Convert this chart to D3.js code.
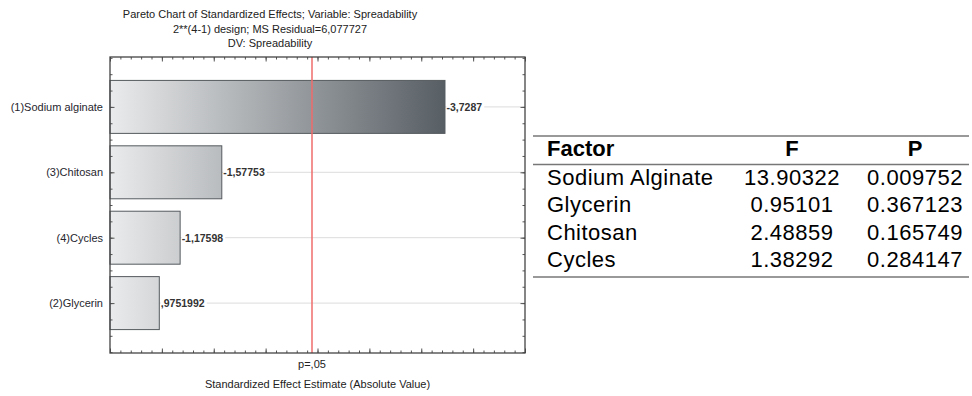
<!DOCTYPE html>
<html>
<head>
<meta charset="utf-8">
<script src="https://cdn.jsdelivr.net/npm/d3@7"></script>
<style>
  html, body { margin: 0; padding: 0; background: #fff; }
  svg { display: block; font-family: "Liberation Sans", Arial, sans-serif; }
</style>
</head>
<body>
<svg id="chart" width="972" height="396"></svg>
<script>
// Pareto chart of standardized effects (sorted by absolute value)
const factors = ["(1)Sodium alginate", "(3)Chitosan", "(4)Cycles", "(2)Glycerin"];
const effects = [-3.7287, -1.57753, -1.17598, 0.9751992];
const criticalT = 2.447;          // t value at p = .05
const xDomain = [0.5, 4.5];
const titleLines = [
  "Pareto Chart of Standardized Effects; Variable: Spreadability",
  "2**(4-1) design; MS Residual=6,077727",
  "DV: Spreadability"
];
const xTitle = "Standardized Effect Estimate (Absolute Value)";
const critLabel = "p=,05";

// ANOVA summary table
const tableHeader = ["Factor", "F", "P"];
const tableFactors = ["Sodium Alginate", "Glycerin", "Chitosan", "Cycles"];
const fValues = [13.90322, 0.95101, 2.48859, 1.38292];
const pValues = [0.009752, 0.367123, 0.165749, 0.284147];

const svg = d3.select("#chart");
const plot = { left: 110, right: 525, top: 57, bottom: 353 };

const x = d3.scaleLinear().domain(xDomain).range([plot.left, plot.right]);
const y = d3.scaleBand().domain(factors).range([plot.top, plot.bottom])
  .paddingInner(0.19).paddingOuter(0.358);
const yc = d => y(d) + y.bandwidth() / 2;

// Statistica-style number: comma decimal, no leading zero
const fmt = v => String(v).replace(/^(-?)0\./, "$1.").replace(".", ",");

// Title
svg.append("g").selectAll("text").data(titleLines).join("text")
  .attr("x", 270).attr("y", (d, i) => 18 + i * 14.5)
  .attr("text-anchor", "middle").attr("font-size", 11).attr("fill", "#222")
  .text(d => d);

// Gradient shared by all bars, spanning up to the largest effect
const maxAbs = d3.max(effects, Math.abs);
const grad = svg.append("defs").append("linearGradient")
  .attr("id", "barGrad").attr("gradientUnits", "userSpaceOnUse")
  .attr("x1", x(xDomain[0])).attr("x2", x(maxAbs)).attr("y1", 0).attr("y2", 0);
grad.append("stop").attr("offset", 0).attr("stop-color", "#eaebec");
grad.append("stop").attr("offset", 1).attr("stop-color", "#575e64");

// Horizontal gridlines at each effect
svg.append("g").selectAll("line").data(factors).join("line")
  .attr("x1", plot.left).attr("x2", plot.right)
  .attr("y1", yc).attr("y2", yc)
  .attr("stroke", "#dcdcdc").attr("stroke-width", 1);

// Bars
svg.append("g").selectAll("rect").data(factors).join("rect")
  .attr("x", x(xDomain[0]))
  .attr("y", d => y(d))
  .attr("width", (d, i) => x(Math.abs(effects[i])) - x(xDomain[0]))
  .attr("height", y.bandwidth())
  .attr("fill", "url(#barGrad)")
  .attr("stroke", "#555a5e").attr("stroke-width", 1);

// Value labels with white backing over the gridline
const lab = svg.append("g").selectAll("g").data(factors).join("g");
lab.each(function (d, i) {
  const g = d3.select(this);
  const bg = g.append("rect").attr("fill", "#fff");
  const t = g.append("text")
    .attr("x", x(Math.abs(effects[i])) + 1.5).attr("y", yc(d) + 4)
    .attr("font-size", 10.5).attr("font-weight", "bold").attr("fill", "#333")
    .text(fmt(effects[i]));
  const b = t.node().getBBox();
  bg.attr("x", b.x).attr("y", b.y).attr("width", b.width + 2).attr("height", b.height);
});

// Critical value line
svg.append("line")
  .attr("x1", x(criticalT)).attr("x2", x(criticalT))
  .attr("y1", plot.top).attr("y2", plot.bottom)
  .attr("stroke", "#ef6b6b").attr("stroke-width", 1.5);

// Inward ticks on all four sides
const majorX = d3.range(xDomain[0], xDomain[1] + 0.001, 0.5);
const minorX = d3.range(xDomain[0], xDomain[1] + 0.001, 0.1);
function xTicks(axisFn, yPos) {
  svg.append("g").attr("transform", `translate(0,${yPos})`)
    .call(axisFn(x).tickValues(minorX).tickSize(-2.5).tickFormat(""))
    .call(g => g.select(".domain").remove())
    .call(g => g.selectAll("line").attr("stroke", "#555"));
  svg.append("g").attr("transform", `translate(0,${yPos})`)
    .call(axisFn(x).tickValues(majorX).tickSize(-4.5).tickFormat(""))
    .call(g => g.select(".domain").remove())
    .call(g => g.selectAll("line").attr("stroke", "#555"));
}
xTicks(d3.axisBottom, plot.bottom);
xTicks(d3.axisTop, plot.top);

const yIdx = d3.scaleLinear().domain([0, factors.length - 1])
  .range([yc(factors[0]), yc(factors[factors.length - 1])]);
const yMinor = d3.range(-0.75, factors.length - 1 + 0.76, 0.25);
const yMajor = d3.range(0, factors.length);
function yTicks(axisFn, xPos) {
  svg.append("g").attr("transform", `translate(${xPos},0)`)
    .call(axisFn(yIdx).tickValues(yMinor).tickSize(-2.5).tickFormat(""))
    .call(g => g.select(".domain").remove())
    .call(g => g.selectAll("line").attr("stroke", "#555"));
  svg.append("g").attr("transform", `translate(${xPos},0)`)
    .call(axisFn(yIdx).tickValues(yMajor).tickSize(-4.5).tickFormat(""))
    .call(g => g.select(".domain").remove())
    .call(g => g.selectAll("line").attr("stroke", "#555"));
}
yTicks(d3.axisLeft, plot.left);
yTicks(d3.axisRight, plot.right);

// Frame
svg.append("rect")
  .attr("x", plot.left).attr("y", plot.top)
  .attr("width", plot.right - plot.left).attr("height", plot.bottom - plot.top)
  .attr("fill", "none").attr("stroke", "#444").attr("stroke-width", 1.3);

// Category labels
svg.append("g").selectAll("text").data(factors).join("text")
  .attr("x", plot.left - 7).attr("y", d => yc(d) + 4)
  .attr("text-anchor", "end").attr("font-size", 11).attr("fill", "#26262e")
  .text(d => d);

// Critical value label and axis title
svg.append("text").attr("x", x(criticalT)).attr("y", 368)
  .attr("text-anchor", "middle").attr("font-size", 11).attr("fill", "#222")
  .text(critLabel);
svg.append("text").attr("x", (plot.left + plot.right) / 2).attr("y", 388)
  .attr("text-anchor", "middle").attr("font-size", 11).attr("fill", "#222")
  .text(xTitle);

// ANOVA table
const tbl = { left: 533, right: 969, colFactor: 547, colF: 792, colP: 915 };
const rule = yPos => svg.append("line")
  .attr("x1", tbl.left).attr("x2", tbl.right).attr("y1", yPos).attr("y2", yPos)
  .attr("stroke", "#777").attr("stroke-width", 1.6);
rule(136); rule(164.5); rule(277);

const head = svg.append("g").attr("font-size", 22).attr("font-weight", "bold").attr("fill", "#000");
head.append("text").attr("x", tbl.colFactor).attr("y", 156).text(tableHeader[0]);
head.append("text").attr("x", tbl.colF).attr("y", 156).attr("text-anchor", "middle").text(tableHeader[1]);
head.append("text").attr("x", tbl.colP).attr("y", 156).attr("text-anchor", "middle").text(tableHeader[2]);

const rows = svg.append("g").attr("font-size", 22).attr("letter-spacing", 0.5).attr("fill", "#000")
  .selectAll("g").data(tableFactors).join("g")
  .attr("transform", (d, i) => `translate(0,${185 + i * 27.4})`);
rows.append("text").attr("x", tbl.colFactor).text(d => d);
rows.append("text").attr("x", tbl.colF).attr("text-anchor", "middle").text((d, i) => fValues[i]);
rows.append("text").attr("x", tbl.colP).attr("text-anchor", "middle").text((d, i) => pValues[i]);
</script>
</body>
</html>
